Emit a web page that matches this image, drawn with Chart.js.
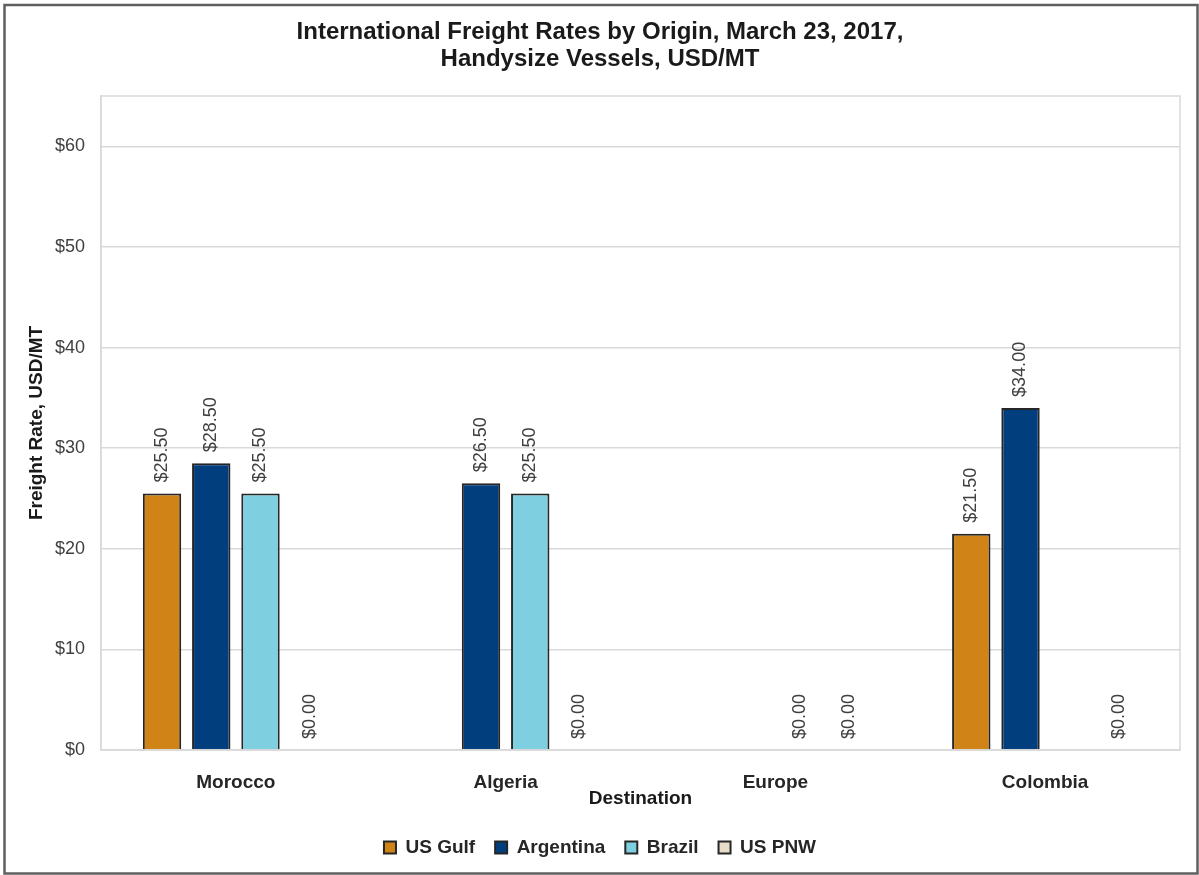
<!DOCTYPE html>
<html>
<head>
<meta charset="utf-8">
<script src="https://cdn.jsdelivr.net/npm/chart.js@4.4.1/dist/chart.umd.min.js"></script>
<style>
  html, body { margin: 0; padding: 0; background: #fff; }
  #wrap { position: absolute; left: 0; top: 0; width: 1199px; height: 875px; }
</style>
</head>
<body>
<div id="wrap"><canvas id="freightChart"></canvas></div>
<script>
const categories = ['Morocco', 'Algeria', 'Europe', 'Colombia'];
const seriesNames = ['US Gulf', 'Argentina', 'Brazil', 'US PNW'];
const usGulf = [25.5, null, null, 21.5];
const argentina = [28.5, 26.5, null, 34.0];
const brazil = [25.5, 25.5, 0, null];
const usPnw = [0, 0, 0, 0];
const seriesColors = ['#D08418', '#003E7E', '#7ECFE0', '#E8DDC9'];
const yMax = 65;
const yStep = 10;

const fontFamily = '"Liberation Sans", Arial, sans-serif';

// outer frame + light plot frame
const framePlugin = {
    id: 'frames',
    beforeDraw(chart) {
        const ctx = chart.ctx;
        ctx.save();
        ctx.fillStyle = '#fff';
        ctx.fillRect(0, 0, chart.width, chart.height);
        ctx.restore();
    },
    afterDraw(chart) {
        const ctx = chart.ctx;
        const a = chart.chartArea;
        ctx.save();
        ctx.strokeStyle = '#d9d9d9';
        ctx.lineWidth = 1.5;
        ctx.strokeRect(a.left, a.top, a.right - a.left, a.bottom - a.top);
        ctx.strokeStyle = '#5f5f5f';
        ctx.lineWidth = 2.5;
        ctx.strokeRect(4.5, 5, 1193, 868.5);
        ctx.restore();
    }
};

// rotated value labels above each bar
const valueLabels = {
    id: 'valueLabels',
    afterDatasetsDraw(chart) {
        const ctx = chart.ctx;
        ctx.save();
        ctx.font = '18px ' + fontFamily;
        ctx.fillStyle = '#404040';
        ctx.textAlign = 'left';
        ctx.textBaseline = 'middle';
        chart.data.datasets.forEach((ds, i) => {
            const meta = chart.getDatasetMeta(i);
            meta.data.forEach((bar, j) => {
                const v = ds.data[j];
                if (v === null || v === undefined) return;
                ctx.save();
                ctx.translate(bar.x, bar.y - 11);
                ctx.rotate(-Math.PI / 2);
                ctx.fillText('$' + v.toFixed(2), 0, 0);
                ctx.restore();
            });
        });
        ctx.restore();
    }
};

const seriesData = [usGulf, argentina, brazil, usPnw];

new Chart(document.getElementById('freightChart'), {
    type: 'bar',
    data: {
        labels: categories,
        datasets: seriesNames.map((name, i) => ({
            label: name,
            data: seriesData[i],
            backgroundColor: seriesColors[i],
            borderColor: '#262626',
            borderWidth: 2,
            categoryPercentage: 0.73,
            barPercentage: 0.78
        }))
    },
    options: {
        responsive: true,
        maintainAspectRatio: false,
        animation: false,
        layout: { padding: { left: 20, right: 19, top: 5, bottom: 8 } },
        plugins: {
            title: {
                display: true,
                text: ['International Freight Rates by Origin, March 23, 2017,', 'Handysize Vessels, USD/MT'],
                color: '#1a1a1a',
                font: { family: fontFamily, size: 24, weight: 'bold', lineHeight: 1.125 },
                padding: { top: 13.5, bottom: 23.5 }
            },
            legend: {
                position: 'bottom',
                labels: {
                    color: '#262626',
                    font: { family: fontFamily, size: 19, weight: 'bold' },
                    boxWidth: 12,
                    boxHeight: 12,
                    padding: 20
                }
            },
            tooltip: { enabled: false }
        },
        scales: {
            x: {
                grid: { display: false },
                border: { color: '#d9d9d9', width: 1.5 },
                ticks: {
                    color: '#262626',
                    font: { family: fontFamily, size: 19, weight: 'bold' },
                    padding: 13
                },
                title: {
                    display: true,
                    text: 'Destination',
                    color: '#1a1a1a',
                    font: { family: fontFamily, size: 19, weight: 'bold' },
                    padding: { top: 0, bottom: 7.5 }
                },
                afterFit(scale) { scale.height = 68; }
            },
            y: {
                min: 0,
                max: yMax,
                grid: { color: '#d9d9d9', lineWidth: 1.5, drawTicks: false },
                border: { color: '#d9d9d9', width: 1.5 },
                ticks: {
                    stepSize: yStep,
                    includeBounds: false,
                    color: '#404040',
                    font: { family: fontFamily, size: 18 },
                    padding: 16,
                    callback: (v) => '$' + v
                },
                title: {
                    display: true,
                    text: 'Freight Rate, USD/MT',
                    color: '#1a1a1a',
                    font: { family: fontFamily, size: 19, weight: 'bold' },
                    padding: { top: 5, bottom: 0 }
                },
                afterFit(scale) { scale.width = 81; }
            }
        }
    },
    plugins: [framePlugin, valueLabels]
});
</script>
</body>
</html>
